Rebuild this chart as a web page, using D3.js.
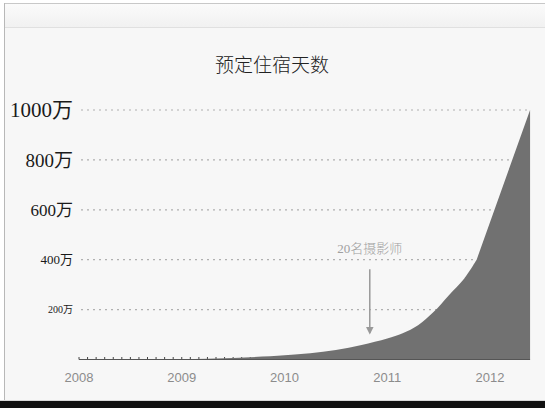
<!DOCTYPE html>
<html lang="zh">
<head>
<meta charset="UTF-8">
<title>预定住宿天数</title>
<style>
  html, body { margin: 0; padding: 0; background: #fff; }
  #chart-wrapper { width: 545px; height: 408px; }
</style>
</head>
<body>
<div id="chart-wrapper"></div>
<script src="https://d3js.org/d3.v7.min.js"></script>
<script>
// nights booked (unit: 万) by fractional year
const years = [2008, 2008.5, 2009, 2009.5, 2010, 2010.25, 2010.5, 2010.75, 2011, 2011.15, 2011.3, 2011.45, 2011.6, 2011.75, 2011.87]
const nights = [0, 0.5, 1.5, 6, 17, 25, 38, 58, 84, 105, 137, 190, 258, 325, 400]
const peakYear = 2012.39
const peakNights = 1000

const yTicks = [200, 400, 600, 800, 1000]
const yTickLabels = ['200万', '400万', '600万', '800万', '1000万']
const xTicks = [2008, 2009, 2010, 2011, 2012]
const xTickLabels = ['2008', '2009', '2010', '2011', '2012']

const titleText = '预定住宿天数'
const noteText = '20名摄影师'
const noteYear = 2010.83
const noteFrom = 362
const noteTo = 106

const W = 545
const H = 408
const labelSizes = [10, 13, 17, 19, 21]

const svg = d3.select('#chart-wrapper')
    .append('svg')
    .attr('width', W)
    .attr('height', H)

// slide frame
const defs = svg.append('defs')
const grad = defs.append('linearGradient')
    .attr('id', 'bar').attr('x1', 0).attr('y1', 0).attr('x2', 0).attr('y2', 1)
grad.append('stop').attr('offset', 0).attr('stop-color', '#fbfbfb')
grad.append('stop').attr('offset', 1).attr('stop-color', '#f1f1f1')

svg.append('rect').attr('x', 0).attr('y', 0).attr('width', W).attr('height', H).attr('fill', '#fff')
svg.append('rect').attr('x', 4).attr('y', 3).attr('width', W - 4).attr('height', 397).attr('fill', '#f7f7f7')
svg.append('rect').attr('x', 4).attr('y', 3).attr('width', W - 4).attr('height', 24).attr('fill', 'url(#bar)')
svg.append('line').attr('x1', 4).attr('x2', W).attr('y1', 3.5).attr('y2', 3.5).attr('stroke', '#c8c8c8')
svg.append('line').attr('x1', 4).attr('x2', W).attr('y1', 27.5).attr('y2', 27.5).attr('stroke', '#e0e0e0')
svg.append('line').attr('x1', 4.5).attr('x2', 4.5).attr('y1', 3).attr('y2', 401).attr('stroke', '#b8b8b8')
svg.append('rect').attr('x', 0).attr('y', 400).attr('width', W).attr('height', 1).attr('fill', '#d8d8d8')
svg.append('rect').attr('x', 0).attr('y', 401).attr('width', W).attr('height', 7).attr('fill', '#111')

const x = d3.scaleLinear().domain([2008, 2012]).range([79, 490])
const y = d3.scaleLinear().domain([0, 1000]).range([359.5, 110])

// title
svg.append('text')
    .attr('x', 272)
    .attr('y', 72)
    .attr('text-anchor', 'middle')
    .attr('font-family', '"Noto Sans CJK SC", sans-serif')
    .attr('font-weight', 300)
    .attr('font-size', 19)
    .attr('fill', '#222')
    .text(titleText)

// dotted gridlines
svg.append('g')
    .selectAll('line')
    .data(yTicks)
    .enter()
    .append('line')
    .attr('x1', 81)
    .attr('x2', x(peakYear) - 2)
    .attr('y1', d => y(d))
    .attr('y2', d => y(d))
    .attr('stroke', '#b0b0b0')
    .attr('stroke-width', 1.2)
    .attr('stroke-dasharray', '2,4')

// y labels
svg.append('g')
    .selectAll('text')
    .data(yTicks)
    .enter()
    .append('text')
    .attr('x', 73)
    .attr('y', d => y(d))
    .attr('dy', '0.35em')
    .attr('text-anchor', 'end')
    .attr('font-family', '"Liberation Serif", "Noto Sans CJK SC", serif')
    .attr('font-size', (d, i) => labelSizes[i])
    .attr('fill', '#1a1a1a')
    .text((d, i) => yTickLabels[i])

// monthly ticks on the baseline
const months = d3.range(0, Math.floor((peakYear - 2008) * 12) + 1).map(m => 2008 + m / 12)
svg.append('g')
    .selectAll('line')
    .data(months)
    .enter()
    .append('line')
    .attr('x1', d => x(d))
    .attr('x2', d => x(d))
    .attr('y1', y(0))
    .attr('y2', y(0) - 2.5)
    .attr('stroke', '#444')
    .attr('stroke-width', 1)

// area: smooth growth, then straight run up to the peak
const pts = years.map((d, i) => [x(d), y(nights[i])])
const curve = d3.line().curve(d3.curveCatmullRom.alpha(0.5))(pts)
const areaPath = curve +
    `L${x(peakYear)},${y(peakNights)}` +
    `L${x(peakYear)},${y(0)}` +
    `L${x(years[0])},${y(0)}Z`

svg.append('path')
    .attr('d', areaPath)
    .attr('fill', '#717171')

// baseline
svg.append('line')
    .attr('x1', x(2008))
    .attr('x2', x(peakYear))
    .attr('y1', y(0))
    .attr('y2', y(0))
    .attr('stroke', '#555')
    .attr('stroke-width', 1.2)

// x labels
svg.append('g')
    .selectAll('text')
    .data(xTicks)
    .enter()
    .append('text')
    .attr('x', d => x(d))
    .attr('y', 382)
    .attr('text-anchor', 'middle')
    .attr('font-family', '"Liberation Sans", Arial, sans-serif')
    .attr('font-size', 13)
    .attr('fill', '#8c8c8c')
    .text((d, i) => xTickLabels[i])

// annotation arrow
const ax = x(noteYear)
defs.append('marker')
    .attr('id', 'head')
    .attr('viewBox', '0 0 10 10')
    .attr('refX', 8).attr('refY', 5)
    .attr('markerWidth', 5).attr('markerHeight', 5)
    .attr('orient', 'auto')
    .append('path')
    .attr('d', 'M0,0L10,5L0,10Z')
    .attr('fill', '#999')

svg.append('line')
    .attr('x1', ax)
    .attr('x2', ax)
    .attr('y1', y(noteFrom))
    .attr('y2', y(noteTo))
    .attr('stroke', '#999')
    .attr('stroke-width', 1.5)
    .attr('marker-end', 'url(#head)')

svg.append('text')
    .attr('x', ax)
    .attr('y', 253)
    .attr('text-anchor', 'middle')
    .attr('font-family', '"Liberation Serif", "Noto Sans CJK SC", serif')
    .attr('font-weight', 300)
    .attr('font-size', 13)
    .attr('fill', '#a0a0a0')
    .text(noteText)
</script>
</body>
</html>
